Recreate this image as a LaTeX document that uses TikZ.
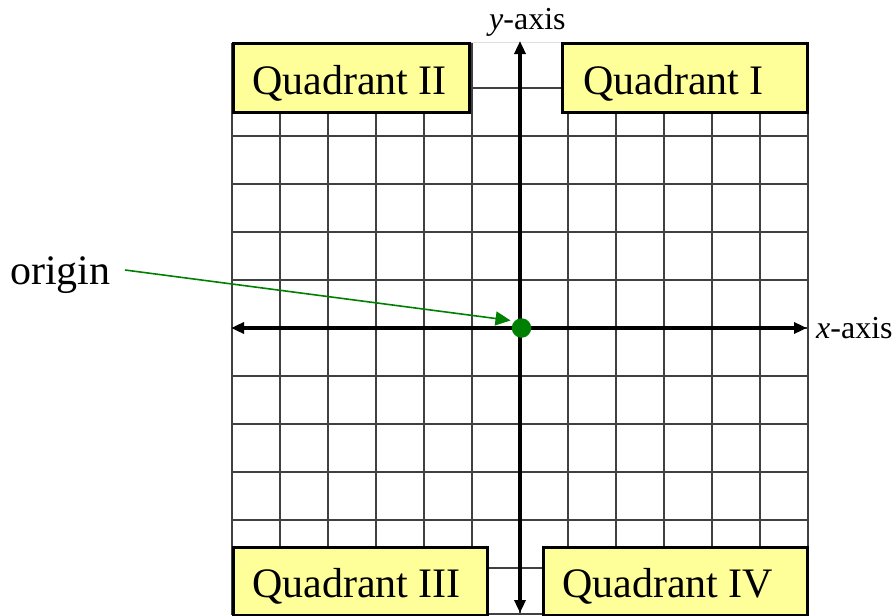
\documentclass[tikz,border=0pt]{standalone}
\usepackage{fontspec}
\setmainfont{Liberation Serif}
\usetikzlibrary{arrows.meta}
\definecolor{quadfill}{HTML}{FFFF99}
\definecolor{origgreen}{HTML}{008000}
\definecolor{gridgray}{HTML}{404040}
\begin{document}
\begin{tikzpicture}[x=1pt,y=-1pt,
  quadbox/.style={draw=black, line width=3pt, fill=quadfill},
  bigtext/.style={anchor=base west, inner sep=0pt, font=\fontsize{42}{48}\selectfont},
  axtext/.style={anchor=base west, inner sep=0pt, font=\fontsize{32}{38}\selectfont},
  gridline/.style={draw=gridgray, line width=1.3pt},
  axisline/.style={line width=3.3pt, {Triangle[length=13pt,width=11pt]}-{Triangle[length=13pt,width=11pt]}},
  greenarrow/.style={draw=origgreen, line width=1.6pt, -{Triangle[length=15pt,width=14pt]}}
]
\useasboundingbox (0,0) rectangle (895,616);
% grid
\draw[draw=black!12, line width=1pt] (232,42) -- (808,42);
\foreach \i in {0,...,12}
  \draw[gridline] (232+48*\i,43) -- (232+48*\i,615);
\foreach \j in {1,...,11}
  \draw[gridline] (232,40+48*\j) -- (808,40+48*\j);
\draw[gridline] (232,614) -- (808,614);
% quadrant boxes
\path[quadbox] (233,43) rectangle (469,112);
\path[quadbox] (562,43) rectangle (807,112);
\path[quadbox] (233,547) rectangle (487,615);
\path[quadbox] (543,547) rectangle (807,615);
\node[bigtext] (q2) at (252,94) {Quadrant II};
\node[bigtext] (q1) at (583,94) {Quadrant I};
\node[bigtext] (q3) at (252,597) {Quadrant III};
\node[bigtext] (q4) at (562,597) {Quadrant IV};
% axes
\coordinate (ytop) at (520,41);
\coordinate (ybot) at (520,613);
\coordinate (xleft) at (231,328);
\coordinate (xright) at (807,328);
\draw[axisline] (ybot) -- (ytop);
\draw[axisline] (xleft) -- (xright);
\node[axtext] (ylab) at (489,29) {\textit{y}-axis};
\node[axtext] (xlab) at (816,338) {\textit{x}-axis};
% origin
\node[circle, fill=origgreen, minimum size=19.5pt, inner sep=0pt] (O) at (521.5,328) {};
\node[bigtext] (olab) at (10,284) {origin};
\coordinate (ostart) at (125,270);
\draw[greenarrow, shorten >=4pt] (ostart) -- (O.north west);
\end{tikzpicture}
\end{document}
